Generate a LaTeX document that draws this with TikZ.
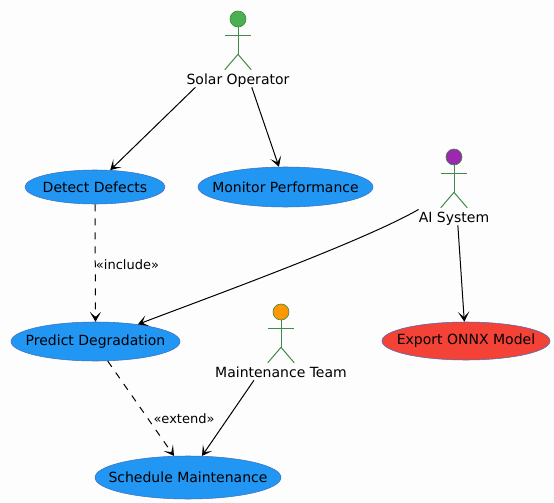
\documentclass[tikz,border=0pt]{standalone}
\usepackage{fontspec}
\setmainfont{DejaVu Sans}
\usepackage{tikz}
\usetikzlibrary{shapes.geometric, arrows.meta}
\usepackage{xcolor}

\definecolor{pagebg}{HTML}{FDFDFD}
\definecolor{usecaseblue}{HTML}{2196F3}
\definecolor{usecasered}{HTML}{F44336}
\definecolor{usecaseline}{HTML}{3F6FC0}
\definecolor{actorline}{HTML}{3F8B47}
\definecolor{solargreen}{HTML}{4CAF50}
\definecolor{aipurple}{HTML}{9C27B0}
\definecolor{teamorange}{HTML}{FF9800}

\begin{document}
\begin{tikzpicture}[
    x=0.75pt, y=-0.75pt,
    usecase/.style = {ellipse, draw=usecaseline, line width=0.4pt, fill=usecaseblue, inner xsep=-20pt, inner ysep=0pt, font=\fontsize{10.5}{12}\selectfont},
    head/.style = {circle, draw=actorline, line width=0.5pt, inner sep=0pt, minimum size=12pt},
    limb/.style = {draw=actorline, line width=0.75pt},
    actorname/.style = {inner sep=0pt, minimum height=12pt, text height=8pt, text depth=0pt, font=\fontsize{10.5}{12}\selectfont},
    stereotype/.style = {inner sep=0pt, font=\fontsize{9.75}{12}\selectfont},
    arrow/.style = {draw=black, ->, >={Stealth[length=7.5pt, width=8.5pt, inset=4pt]}, line width=0.75pt},
    dasharrow/.style = {arrow, dash pattern=on 5.25pt off 5.25pt}
]

% Page
\fill [pagebg] (0, 0) rectangle (554, 503);
\useasboundingbox (0, 0) rectangle (554, 503);

% Use cases
\node (detect) [usecase, minimum width=105pt, minimum height=25.5pt, at={(95, 187)}] {Detect Defects};
\node (monitor) [usecase, minimum width=131.25pt, minimum height=30pt, at={(285.5, 187)}] {Monitor Performance};
\node (predict) [usecase, minimum width=126.75pt, minimum height=29.25pt, at={(95.5, 341.5)}] {Predict Degradation};
\node (export) [usecase, fill=usecasered, minimum width=126pt, minimum height=28.5pt, at={(466, 341)}] {Export ONNX Model};
\node (schedule) [usecase, minimum width=139.5pt, minimum height=32.25pt, at={(188, 477.5)}] {Schedule Maintenance};

% Actors
\node (solar_head) [head, fill=solargreen, at={(238, 19)}] {};
\node (solar) [actorname, at={(238, 79)}] {Solar Operator};
\draw [limb] (solar_head.south) -- ++(0, 27);
\draw [limb] (solar_head.south) ++(-13.3, 8) -- ++(26.6, 0);
\draw [limb] (solar_head.south) ++(-13.3, 42.5) -- ++(13.3, -15.5) -- ++(13.3, 15.5);

\node (ai_head) [head, fill=aipurple, at={(454, 157)}] {};
\node (ai) [actorname, at={(454, 217)}] {AI System};
\draw [limb] (ai_head.south) -- ++(0, 27);
\draw [limb] (ai_head.south) ++(-13.3, 8) -- ++(26.6, 0);
\draw [limb] (ai_head.south) ++(-13.3, 42.5) -- ++(13.3, -15.5) -- ++(13.3, 15.5);

\node (team_head) [head, fill=teamorange, at={(281, 312)}] {};
\node (team) [actorname, at={(281, 372)}] {Maintenance Team};
\draw [limb] (team_head.south) -- ++(0, 27);
\draw [limb] (team_head.south) ++(-13.3, 8) -- ++(26.6, 0);
\draw [limb] (team_head.south) ++(-13.3, 42.5) -- ++(13.3, -15.5) -- ++(13.3, 15.5);

% Associations
\draw [arrow] (solar.191.6) -- (detect.48.6);
\draw [arrow] (solar.-31.6) -- (monitor.108);
\draw [arrow] (ai.168) to[out=210, in=21, looseness=0.55] (predict.22);
\draw [arrow] (ai.-65) -- (export.95);
\draw [arrow] (team.197) -- (schedule.57);

% Include and extend
\draw [dasharrow] (detect.south) -- (predict.north);
\draw [dasharrow] (predict.-58) -- (schedule.123);
\node (include_label) [stereotype, at={(127.5, 265)}] {«include»};
\node (extend_label) [stereotype, at={(184, 419)}] {«extend»};

\end{tikzpicture}
\end{document}
